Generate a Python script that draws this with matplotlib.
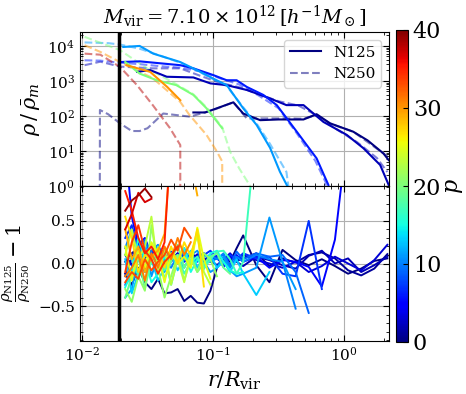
import numpy as np
import matplotlib
matplotlib.use("Agg")
import matplotlib.pyplot as plt
from matplotlib.ticker import AutoMinorLocator, LogLocator, NullFormatter
from matplotlib.lines import Line2D

plt.rcParams['font.family'] = ['DejaVu Serif']
plt.rcParams['mathtext.fontset'] = 'dejavuserif'

# ---------------- data ----------------
title_text = r'$M_{\rm vir} = 7.10 \times 10^{12}\,[h^{-1}M_\odot]$'
r_cut = 0.0191          # vertical marker (r / R_vir)
p_min, p_max = 0, 40

# Top panel: density profiles (log10 r/Rvir, log10 rho/rho_m)
n125_logr_p0 = [-1.15, -1.06, -0.97, -0.845, -0.77, -0.64, -0.50, -0.31, -0.21, -0.107, 0.07, 0.18, 0.30, 0.34]
n125_logd_p0 = [2.10, 2.10, 2.22, 2.39, 2.07, 1.88, 1.90, 1.90, 2.05, 1.79, 1.55, 1.30, 0.93, 0.74]
n250_logr_p0 = [-1.865, -1.863, -1.80, -1.71, -1.62, -1.56, -1.50, -1.38, -1.176, -1.0, -0.845, -0.743, -0.60, -0.40, -0.31, -0.21, -0.107, 0.07, 0.20, 0.33]
n250_logd_p0 = [-3.0, 2.17, 2.05, 1.79, 1.57, 1.57, 1.65, 2.07, 1.98, 2.17, 2.39, 1.93, 1.93, 1.93, 1.92, 2.03, 1.78, 1.55, 1.20, 0.85]

n125_logr_p2 = [-1.58, -1.48, -1.353, -1.15, -1.02, -0.896, -0.74, -0.565, -0.44, -0.31, -0.158, 0.02, 0.147, 0.275, 0.34]
n125_logd_p2 = [3.26, 3.31, 3.12, 3.10, 2.93, 2.88, 2.74, 2.50, 2.31, 2.31, 1.83, 1.46, 1.08, 0.60, 0.03]
n250_logr_p2 = [-1.98, -1.86, -1.71, -1.46, -1.25, -1.10, -0.95, -0.80, -0.65, -0.50, -0.35, -0.20, -0.05, 0.10, 0.25, 0.33]
n250_logd_p2 = [3.45, 3.55, 3.41, 3.36, 3.36, 3.15, 2.95, 2.82, 2.62, 2.42, 2.30, 2.00, 1.60, 1.25, 0.80, 0.40]

n125_logr_p6 = [-1.71, -1.56, -1.25, -1.15, -1.0, -0.896, -0.82, -0.743, -0.616, -0.514, -0.361, -0.21, -0.12, -0.10]
n125_logd_p6 = [3.54, 3.56, 3.45, 3.36, 3.17, 3.02, 3.02, 2.83, 2.60, 2.31, 1.55, 0.79, 0.03, -1.0]
n250_logr_p6 = [-1.98, -1.86, -1.71, -1.56, -1.40, -1.25, -1.10, -0.95, -0.80, -0.65, -0.50, -0.36, -0.22, -0.14, -0.13]
n250_logd_p6 = [3.59, 3.58, 3.52, 3.48, 3.42, 3.38, 3.28, 3.08, 2.90, 2.58, 2.22, 1.50, 0.72, 0.10, -1.0]

n125_logr_p11 = [-1.685, -1.56, -1.456, -1.25, -1.124, -1.0, -0.895, -0.77, -0.667, -0.565, -0.49, -0.42]
n125_logd_p11 = [3.97, 4.00, 3.78, 3.54, 3.31, 3.07, 2.88, 2.22, 1.74, 1.09, 0.41, -0.10]
n250_logr_p11 = [-1.98, -1.80, -1.71, -1.56, -1.40, -1.25, -1.10, -1.0, -0.895, -0.77, -0.667, -0.565, -0.49, -0.44, -0.39]
n250_logd_p11 = [4.10, 4.08, 4.04, 3.92, 3.72, 3.52, 3.25, 3.05, 2.85, 2.25, 1.78, 1.20, 0.72, 0.40, -1.0]

n125_logr_p20 = [-1.67, -1.56, -1.43, -1.28, -1.15, -1.05, -0.93]
n125_logd_p20 = [3.54, 3.21, 3.02, 2.88, 2.60, 2.22, 1.65]
n250_logr_p20 = [-1.98, -1.71, -1.50, -1.30, -1.15, -1.05, -0.93, -0.87, -0.80, -0.72, -0.70]
n250_logd_p20 = [4.26, 3.88, 3.35, 2.95, 2.62, 2.25, 1.68, 0.98, 0.50, 0.02, -3.0]

n125_logr_p30 = [-1.66, -1.48, -1.35, -1.25]
n125_logd_p30 = [3.45, 3.26, 2.83, 2.45]
n250_logr_p30 = [-1.98, -1.86, -1.71, -1.46, -1.25, -1.18, -1.05, -0.97, -0.93, -0.93]
n250_logd_p30 = [4.02, 3.83, 3.54, 3.08, 2.40, 2.03, 1.46, 0.98, 0.70, -3.0]

n250_logr_p38 = [-1.98, -1.86, -1.71, -1.58, -1.46, -1.33, -1.25, -1.25]
n250_logd_p38 = [3.78, 3.75, 3.40, 2.88, 2.31, 1.66, 1.17, -3.0]

# Bottom panel: ratio rho_N125/rho_N250 - 1 on shared radial bins
logr_bins = [-1.67, -1.62, -1.57, -1.52, -1.47, -1.42, -1.37, -1.32, -1.27, -1.22,
             -1.17, -1.12, -1.07, -1.02, -0.97, -0.92, -0.87, -0.82, -0.77, -0.67,
             -0.57, -0.47, -0.37, -0.27, -0.17, -0.07, 0.03, 0.13, 0.23, 0.33]

ratio_p00 = [-0.12, -0.25, -0.05, -0.22, -0.30, -0.18, -0.35, -0.34, -0.30, -0.44, -0.38, -0.46, -0.47, -0.32, -0.05, 0.05, 0.02, 0.18, 0.33, -0.02, -0.22, 0.16, 0.04, -0.02, 0.05, -0.03, -0.12, -0.06, 0.03, 0.06]
ratio_p01 = [0.02, 0.12, 0.18, 0.06, 0.14, 0.08, 0.11, 0.04, 0.12, 0.07, 0.10, 0.09, 0.03, 0.10, 0.06, 0.00, 0.09, 0.03, 0.06, 0.12, -0.03, 0.06, 0.01, 0.10, 0.13, 0.06, -0.08, -0.14, -0.06, 0.11]
ratio_p02 = [0.10, -0.02, 0.20, 0.12, 0.04, 0.10, 0.16, 0.08, 0.05, 0.13, 0.02, 0.06, 0.11, 0.04, -0.02, 0.05, 0.10, 0.02, -0.03, 0.08, 0.04, -0.02, -0.06, 0.09, 0.15, 0.00, 0.06, -0.10, -0.02, 0.08]
ratio_p03 = [-0.15, 0.06, 0.24, 0.10, 0.15, -0.05, 0.08, 0.02, 0.12, 0.05, 0.00, 0.11, 0.06, 0.02, 0.09, 0.05, 0.12, 0.03, 0.10, 0.04, 0.00, -0.05, 0.02, -0.10, -0.03, 0.08, 0.00, -0.08, 0.04, 0.22]
ratio_p05 = [1.40, 0.55, 0.22, 0.30, 0.10, 0.15, 0.05, 0.12, 0.08, 0.02, 0.10, 0.05, 0.12, 0.02, 0.08, -0.04, 0.06, 0.10, 0.02, 0.08, -0.05, 0.04, 0.02, -0.04, -0.27, 0.28, 1.60]
ratio_p07 = [0.30, 0.45, 0.15, -0.10, 0.12, 0.20, 0.05, 0.14, 0.00, 0.12, 0.08, 0.02, 0.10, 0.15, 0.06, 0.00, 0.10, 0.05, 0.12, 0.06, 0.08, -0.12, -0.15, 0.50, -0.30]
ratio_p09 = [-0.25, -0.05, 0.20, 0.28, 0.08, 0.15, -0.02, 0.10, 0.05, 0.18, 0.00, 0.08, 0.12, 0.02, 0.06, 0.10, -0.02, 0.14, 0.05, 0.12, 0.08, 0.10, -0.10, -0.58]
ratio_p10 = [0.18, 0.40, 0.05, -0.10, 0.15, 0.22, 0.05, -0.05, 0.10, 0.12, 0.02, 0.08, -0.06, 0.10, 0.05, 0.12, -0.05, 0.08, 0.02, 0.10, 0.05, 0.02, -0.53]
ratio_p11 = [-0.40, -0.30, 0.10, 0.25, -0.15, 0.08, -0.10, 0.12, 0.05, -0.05, 0.10, 0.15, 0.02, -0.10, -0.05, 0.08, -0.08, -0.15, -0.12, -0.05, 0.54, 0.02, -0.30]
ratio_p13 = [0.05, -0.35, -0.12, 0.18, 0.05, -0.20, -0.05, 0.12, -0.08, 0.05, 0.15, -0.05, 0.08, 0.10, -0.05, 0.02, -0.10, 0.05, -0.12, -0.37, -0.10]
ratio_p15 = [-0.28, -0.10, 0.30, 0.05, -0.22, -0.12, 0.10, -0.25, 0.05, 0.18, -0.10, 0.05, -0.05, 0.12, 0.15, 0.02, -0.08, -0.12, -0.10]
ratio_p17 = [0.10, 0.05, -0.15, 0.12, 0.00, 0.20, -0.08, 0.05, 0.10, -0.12, 0.02, 0.08, -0.06, 0.05, 0.14, 0.15, 0.05, -0.12, 0.02, 1.60]
ratio_p19 = [-0.40, -0.15, 0.08, -0.30, 0.05, 0.15, -0.18, 0.02, 0.22, -0.05, 0.10, -0.10, 0.00, 0.08, 0.12, -0.05, -0.12]
ratio_p21 = [-0.30, -0.45, -0.15, -0.32, 0.45, -0.05, -0.40, -0.15, 0.10, -0.20, 0.05, -0.10, 0.12, 0.05, -0.15]
ratio_p23 = [0.10, 0.40, 0.05, 0.20, 0.55, -0.10, 0.18, -0.25, 0.05, -0.22, 0.12, 0.32, -0.10, -0.25]
ratio_p25 = [0.20, -0.20, 0.15, -0.05, 0.25, 0.10, -0.22, 0.12, 0.00, 0.08, -0.05, 0.42, 0.05, -0.18]
ratio_p27 = [0.55, 0.30, -0.10, 0.10, 0.05, 0.18, -0.05, 0.20, 0.00, 0.25, 0.08, 0.40, -0.27]
ratio_p29 = [0.40, 0.05, 0.20, -0.10, 0.08, 0.15, 0.35, 1.40, 1.50, 1.40, 1.20, 0.80]
ratio_p31 = [-0.15, -0.05, 0.10, -0.20, 0.12, -0.05, 0.20, 0.05, 0.30, 0.10, 0.25]
ratio_p33 = [-0.22, -0.10, -0.18, 0.05, -0.08, 0.02, 0.10, 0.28, 0.15, 0.42, 0.30]
ratio_p34 = [-0.10, 0.25, 0.45, 0.15, 0.05, -0.12, 0.02, 0.10, 0.20]
ratio_p35 = [0.85, 0.62, 0.30, 0.12, 0.20, 0.05, 0.25, 1.50]
ratio_p37 = [0.40, 0.58, 0.83, 0.72, 0.76]
ratio_p39 = [0.62, 0.74, 0.80, 0.88, 0.78]

ratio_p = [0, 1, 2, 3, 5, 7, 9, 10, 11, 13, 15, 17, 19, 21, 23, 25, 27, 29, 31, 33, 34, 35, 37, 39]
ratio_vals = [ratio_p00, ratio_p01, ratio_p02, ratio_p03, ratio_p05, ratio_p07, ratio_p09,
              ratio_p10, ratio_p11, ratio_p13, ratio_p15, ratio_p17, ratio_p19, ratio_p21,
              ratio_p23, ratio_p25, ratio_p27, ratio_p29, ratio_p31, ratio_p33, ratio_p34,
              ratio_p35, ratio_p37, ratio_p39]

# ---------------- figure ----------------
W, H = 466, 394
fig = plt.figure(figsize=(W / 100, H / 100), dpi=100)
L, R = 80, 389
ax1 = fig.add_axes([L / W, 1 - 186 / H, (R - L) / W, (186 - 32) / H])
ax2 = fig.add_axes([L / W, 1 - 341 / H, (R - L) / W, (341 - 186) / H], sharex=ax1)
cax = fig.add_axes([396 / W, 1 - 342 / H, 12 / W, (342 - 30) / H])

cmap = plt.get_cmap('jet')
norm = matplotlib.colors.Normalize(vmin=p_min, vmax=p_max)

top_sets = [
    (0, n125_logr_p0, n125_logd_p0, n250_logr_p0, n250_logd_p0),
    (2, n125_logr_p2, n125_logd_p2, n250_logr_p2, n250_logd_p2),
    (6, n125_logr_p6, n125_logd_p6, n250_logr_p6, n250_logd_p6),
    (11, n125_logr_p11, n125_logd_p11, n250_logr_p11, n250_logd_p11),
    (20, n125_logr_p20, n125_logd_p20, n250_logr_p20, n250_logd_p20),
    (30, n125_logr_p30, n125_logd_p30, n250_logr_p30, n250_logd_p30),
    (38, None, None, n250_logr_p38, n250_logd_p38),
]
for p, lr1, ld1, lr2, ld2 in top_sets:
    c = cmap(norm(p))
    ax1.plot(10 ** np.array(lr2), 10 ** np.array(ld2), ls='--', color=c, alpha=0.5, lw=1.5)
for p, lr1, ld1, lr2, ld2 in top_sets:
    c = cmap(norm(p))
    if lr1 is not None:
        ax1.plot(10 ** np.array(lr1), 10 ** np.array(ld1), ls='-', color=c, lw=1.5)

for p, vals in zip(ratio_p, ratio_vals):
    x = 10 ** np.array(logr_bins[:len(vals)])
    ax2.plot(x, vals, color=cmap(norm(p)), lw=1.4)

for ax in (ax1, ax2):
    ax.axvline(r_cut, color='k', lw=2.5, zorder=5)
    ax.set_xscale('log')
    ax.grid(True, color='#b0b0b0', lw=0.8)
    ax.tick_params(which='both', direction='in', top=True, right=True, labelsize=11)
    ax.tick_params(which='major', length=4)
    ax.tick_params(which='minor', length=2)

ax1.set_yscale('log')
ax1.set_xlim(0.00966, 2.2)
ax1.set_ylim(1, 2.5e4)
ax1.yaxis.set_major_locator(LogLocator(base=10, numticks=10))
ax1.yaxis.set_minor_locator(LogLocator(base=10, subs=np.arange(2, 10), numticks=20))
ax1.yaxis.set_minor_formatter(NullFormatter())
plt.setp(ax1.get_xticklabels(), visible=False)
ax1.set_ylabel(r'$\rho\,/\,\bar{\rho}_m$', fontsize=15)
ax1.set_title(title_text, fontsize=14, pad=6)

handles = [Line2D([], [], color=cmap(norm(0)), lw=1.5, ls='-'),
           Line2D([], [], color=cmap(norm(0)), lw=1.5, ls='--', alpha=0.5)]
ax1.legend(handles, ['N125', 'N250'], loc='upper right', fontsize=11, handlelength=2.0,
           borderaxespad=0.5)

ax2.set_ylim(-0.91, 0.91)
ax2.set_yticks([-0.5, 0.0, 0.5])
ax2.yaxis.set_minor_locator(AutoMinorLocator(5))
ax2.set_xlabel(r'$r/R_{\rm vir}$', fontsize=15)
ax2.set_ylabel(r'$\frac{\rho_{\rm N125}}{\rho_{\rm N250}} - 1$', fontsize=15)

sm = matplotlib.cm.ScalarMappable(norm=norm, cmap=cmap)
cb = fig.colorbar(sm, cax=cax, ticks=[0, 10, 20, 30, 40])
cb.ax.tick_params(labelsize=16, direction='in')
cb.set_label(r'$p$', fontsize=16, labelpad=1)

fig.savefig('out.png', dpi=100)
